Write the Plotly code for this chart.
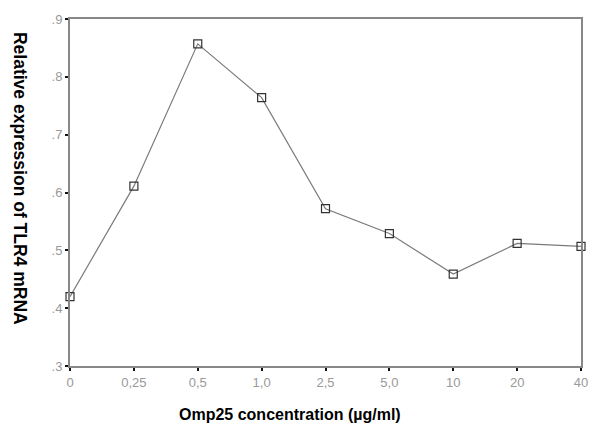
import plotly.graph_objects as go

concentrations = ["0", "0,25", "0,5", "1,0", "2,5", "5,0", "10", "20", "40"]
expression = [0.42, 0.611, 0.857, 0.764, 0.572, 0.529, 0.459, 0.512, 0.507]
yTickVals = [0.3, 0.4, 0.5, 0.6, 0.7, 0.8, 0.9]
yTickText = [".3", ".4", ".5", ".6", ".7", ".8", ".9"]

fig = go.Figure()
fig.add_trace( go.Scatter( x=list(range(len(concentrations))), y=expression, mode="lines+markers",
    line=dict(color="#7a7a7a", width=1.2),
    marker=dict(symbol="square-open", size=8, color="#333333", line=dict(width=1.2)),
    cliponaxis=False, showlegend=False ) )

axisStyle = dict( showline=True, linecolor="#888888", linewidth=2, mirror=True, showgrid=False, zeroline=False,
    ticks="outside", ticklen=3, tickwidth=2, tickcolor="#111111",
    tickfont=dict(family="Arial, Liberation Sans", size=13, color="#999999") )

fig.update_xaxes( range=[0, len(concentrations) - 1], tickvals=list(range(len(concentrations))),
    ticktext=concentrations, **axisStyle )
fig.update_yaxes( range=[0.3, 0.9], tickvals=yTickVals, ticktext=yTickText, **axisStyle )

fig.add_annotation( text="<b>Omp25 concentration (µg/ml)</b>", xref="paper", yref="paper", x=0.43, y=-0.11,
    yanchor="top", showarrow=False, font=dict(family="Arial, Liberation Sans", size=16, color="black") )
fig.add_annotation( text="<b>Relative expression of TLR4 mRNA</b>", xref="paper", yref="paper", x=-0.12, y=0.54,
    textangle=90, showarrow=False, font=dict(family="Arial, Liberation Sans", size=17.5, color="black") )

fig.update_layout( width=600, height=435, margin=dict(l=70, r=17, t=15, b=69),
    plot_bgcolor="white", paper_bgcolor="white" )
fig.write_html("out.html", config={"displayModeBar": False}, post_script="document.body.style.margin='0';")
